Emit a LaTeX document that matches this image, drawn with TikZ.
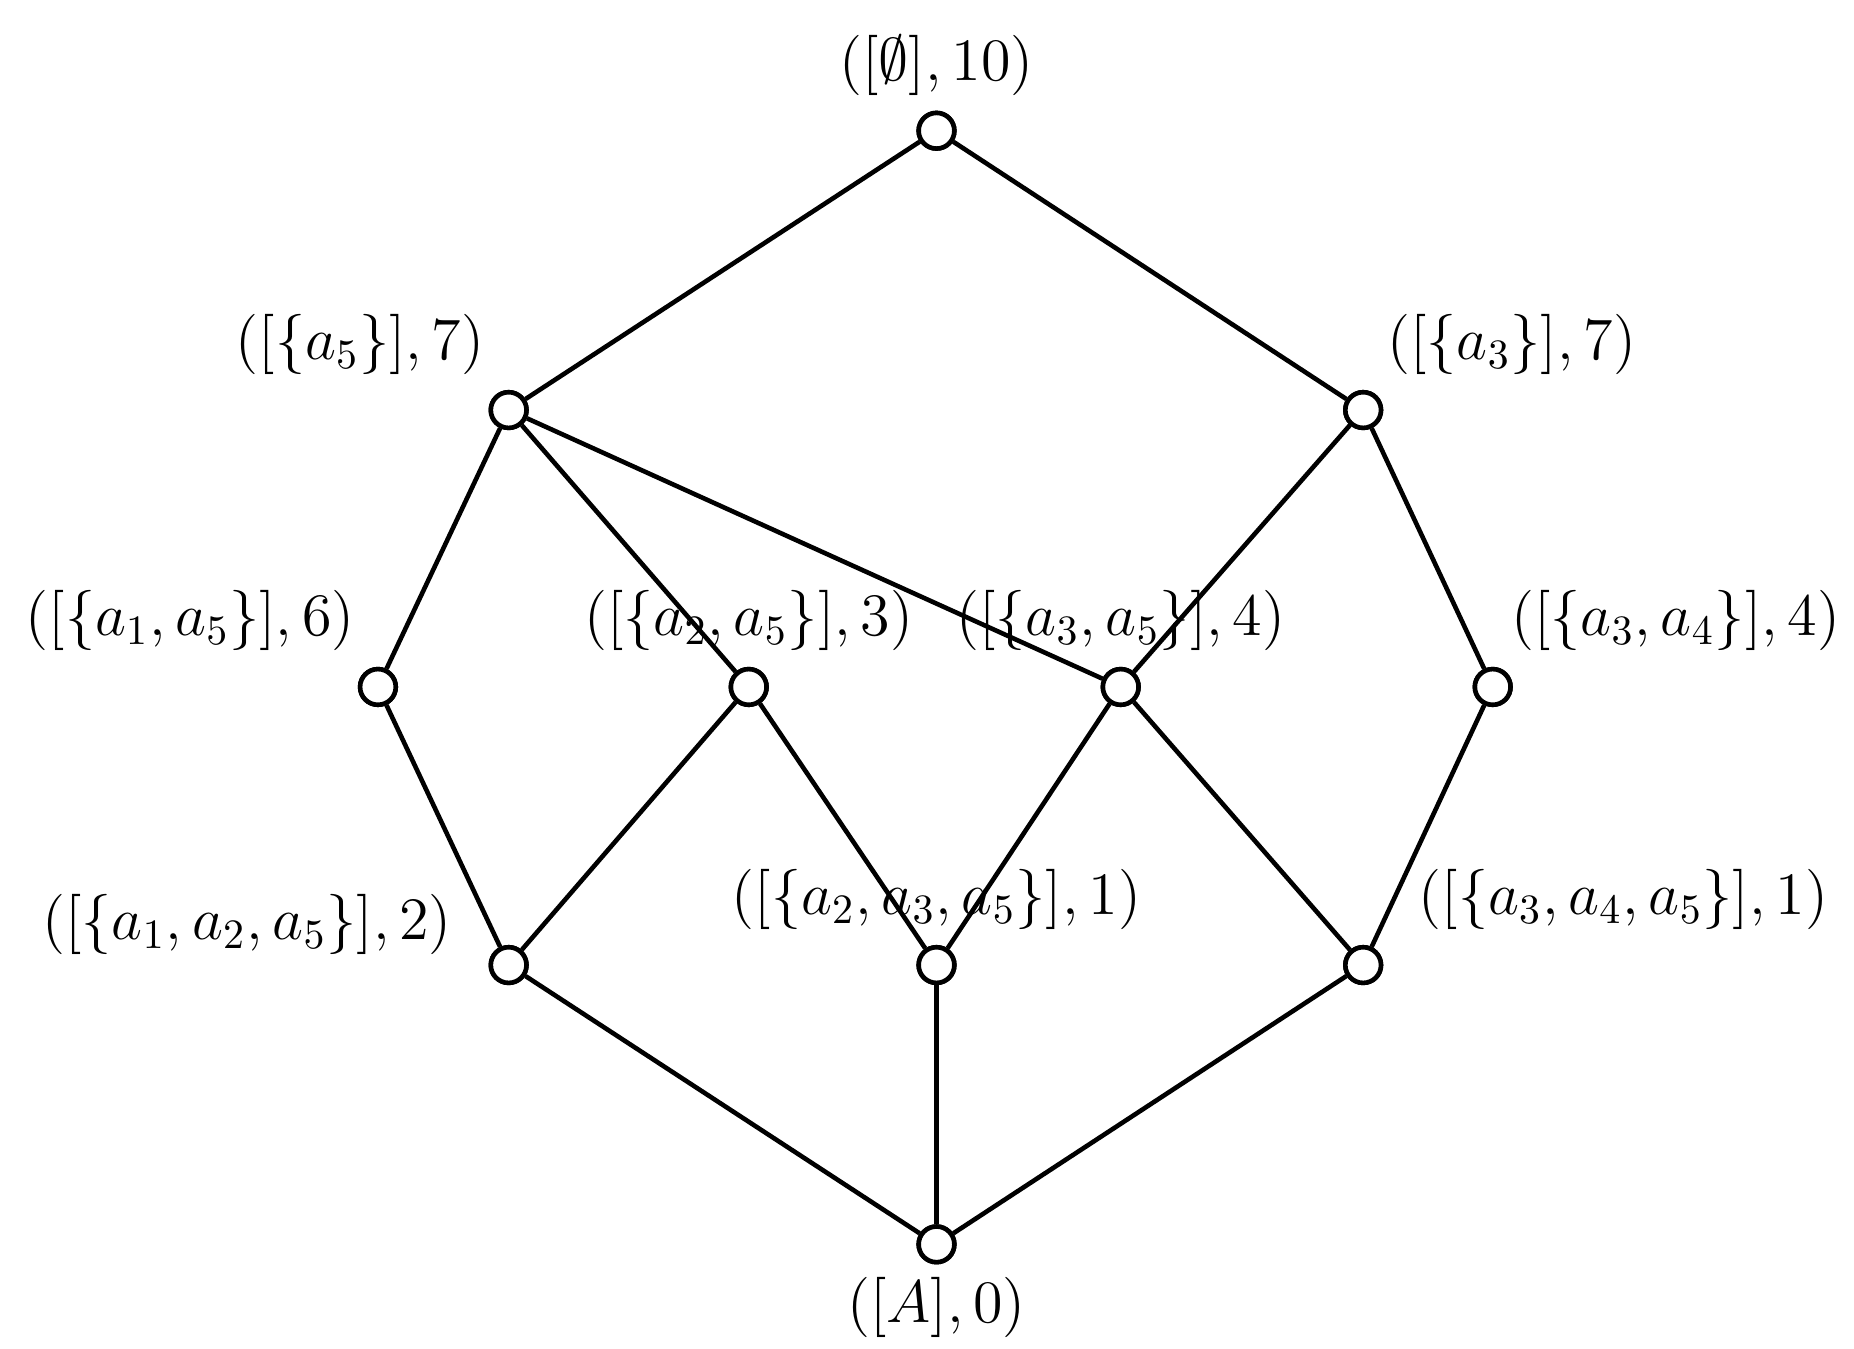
\documentclass[tikz,border=0pt]{standalone}
\usepackage{amssymb}
\begin{document}
\begin{tikzpicture}[x=0.01cm,y=-0.01cm,
  v/.style={circle,draw,line width=1.1pt,fill=white,minimum size=0.3cm,inner sep=0pt},
  lab/.style={font=\fontsize{14}{16}\selectfont},
  e/.style={line width=1.1pt}]
\useasboundingbox (0,0) rectangle (1560,1135);
\node[v] (t) at (788,110) {};
\node[v] (a5) at (428,345) {};
\node[v] (a3) at (1147,345) {};
\node[v] (a15) at (318,578) {};
\node[v] (a25) at (630,578) {};
\node[v] (a35) at (943,578) {};
\node[v] (a34) at (1256,578) {};
\node[v] (a125) at (428,812) {};
\node[v] (a235) at (788,812) {};
\node[v] (a345) at (1147,812) {};
\node[v] (A) at (788,1047) {};
\begin{scope}[on background layer/.try]
\end{scope}
\foreach \p/\q in {t/a5,t/a3,a5/a15,a5/a25,a5/a35,a3/a35,a3/a34,a15/a125,a25/a125,a25/a235,a35/a235,a35/a345,a34/a345,a125/A,a235/A,a345/A}
  \draw[e] (\p) -- (\q);
\foreach \n in {t,a5,a3,a15,a25,a35,a34,a125,a235,a345,A}
  \node[v] at (\n) {};
\node[lab] (l1) at (788,55) {$([\emptyset],10)$};
\node[lab] (l2) at (303,290) {$([\{a_5\}],7)$};
\node[lab] (l3) at (1272,290) {$([\{a_3\}],7)$};
\node[lab] (l4) at (160,522) {$([\{a_1,a_5\}],6)$};
\node[lab] (l5) at (630,522) {$([\{a_2,a_5\}],3)$};
\node[lab] (l6) at (943,522) {$([\{a_3,a_5\}],4)$};
\node[lab] (l7) at (1410,522) {$([\{a_3,a_4\}],4)$};
\node[lab] (l8) at (208,778) {$([\{a_1,a_2,a_5\}],2)$};
\node[lab] (l9) at (788,757) {$([\{a_2,a_3,a_5\}],1)$};
\node[lab] (l10) at (1366,757) {$([\{a_3,a_4,a_5\}],1)$};
\node[lab] (l11) at (788,1100) {$([A],0)$};
\end{tikzpicture}
\end{document}
